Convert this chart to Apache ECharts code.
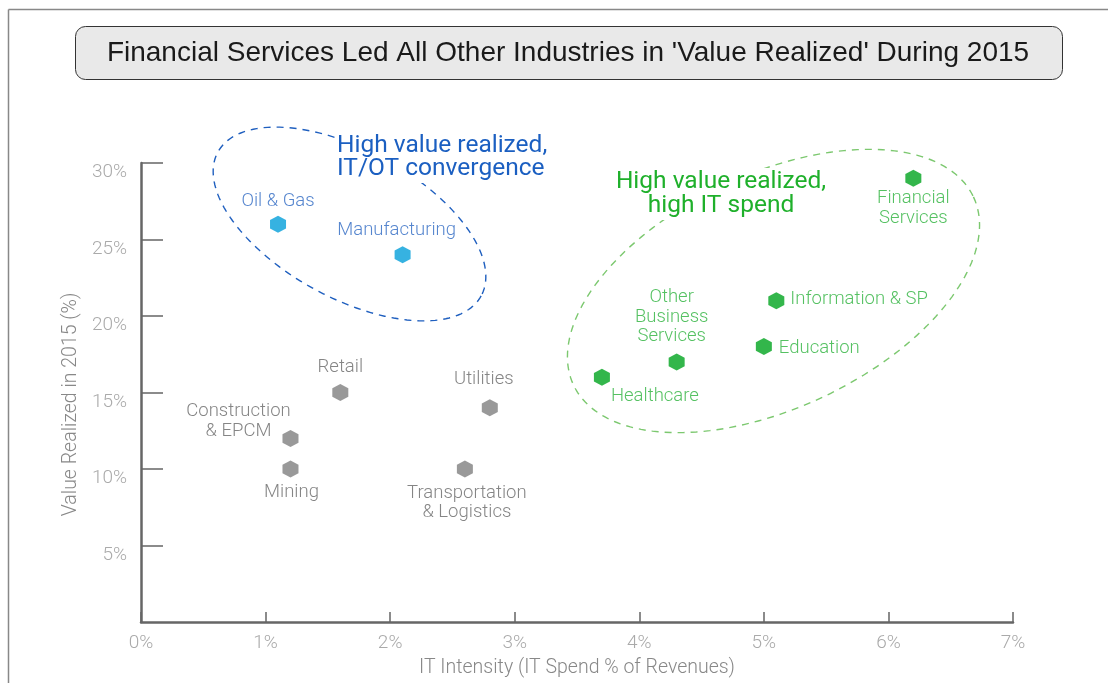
<!DOCTYPE html>
<html>
<head>
<meta charset="utf-8">
<script src="https://cdn.jsdelivr.net/npm/echarts@6/dist/echarts.min.js"></script>
<style>html,body{margin:0;padding:0;background:#fff;}#c{width:1108px;height:683px;}</style>
</head>
<body>
<div id="c"></div>
<script>
const titleText = "Financial Services Led All Other Industries in 'Value Realized' During 2015";
const xAxisName = 'IT Intensity (IT Spend % of Revenues)';
const yAxisName = 'Value Realized in 2015 (%)';
const industries = ['Oil & Gas','Manufacturing','Retail','Construction\n& EPCM','Mining','Utilities','Transportation\n& Logistics','Healthcare','Other\nBusiness\nServices','Education','Information & SP','Financial\nServices'];
const itIntensity = [1.1, 2.1, 1.6, 1.2, 1.2, 2.8, 2.6, 3.7, 4.3, 5.0, 5.1, 6.2];
const valueRealized = [26, 24, 15, 12, 10, 14, 10, 16, 17, 18, 21, 29];
const groupOf = ['blue','blue','gray','gray','gray','gray','gray','green','green','green','green','green'];
const blueNote = 'High value realized,\nIT/OT convergence';
const greenNote = 'High value realized,\nhigh IT spend';

// label placement (style, not data)
const labelLayout = [
  {off:[0,-23], align:'center'},
  {off:[-6,-24], align:'center'},
  {off:[0,-25], align:'center'},
  {off:[-52,-17], align:'center'},
  {off:[1,23], align:'center'},
  {off:[-6,-28], align:'center'},
  {off:[2,34], align:'center'},
  {off:[53,19], align:'center'},
  {off:[-5,-45], align:'center'},
  {off:[15,2], align:'left'},
  {off:[14,-1], align:'left'},
  {off:[0,30], align:'center'}
];
const palette = {
  blue: {marker:'#049fd9', label:'#2a66c2'},
  gray: {marker:'#808080', label:'#666666'},
  green:{marker:'#00a41e', label:'#2ab13b'}
};
const hex = 'path://M0,-1 L0.866,-0.5 L0.866,0.5 L0,1 L-0.866,0.5 L-0.866,-0.5 Z';
const FONT = 'Roboto, "Noto Sans", sans-serif';

function seriesFor(g){
  const data = [];
  industries.forEach((n,i)=>{
    if(groupOf[i]!==g) return;
    const L = labelLayout[i];
    data.push({name:n, value:[itIntensity[i], valueRealized[i]],
      label:{offset:L.off, align:L.align}});
  });
  return {
    type:'scatter', name:g, data, symbol:hex, symbolSize:[16,17],
    itemStyle:{color:palette[g].marker},
    label:{show:true, position:'inside', formatter:p=>p.name, color:palette[g].label,
      fontFamily:FONT, fontWeight:300, fontSize:18.5, lineHeight:19.5, verticalAlign:'middle'},
    emphasis:{disabled:true}, z:3
  };
}

function ellipsePts(cx,cy,a,b,theta){
  const pts=[];
  for(let k=0;k<180;k++){
    const t=k/180*Math.PI*2;
    const x=a*Math.cos(t), y=b*Math.sin(t);
    pts.push([cx + x*Math.cos(theta) - y*Math.sin(theta), cy + x*Math.sin(theta) + y*Math.cos(theta)]);
  }
  return pts;
}

const chart = echarts.init(document.getElementById('c'));
chart.setOption({
  backgroundColor:'#fff',
  animation:false,
  grid:{left:141, right:95, top:163, bottom:55},
  xAxis:{type:'value', min:0, max:7, interval:1,
    name:xAxisName, nameLocation:'middle', nameGap:36,
    nameTextStyle:{color:'#888', fontSize:19.5, fontFamily:FONT, fontWeight:300},
    axisLine:{show:true, lineStyle:{color:'#666', width:2.5}},
    axisTick:{show:true, inside:true, length:10, lineStyle:{color:'#666', width:1.5}},
    axisLabel:{formatter:'{value}%', color:'#aaa', fontSize:19, fontFamily:FONT, fontWeight:300, margin:12},
    splitLine:{show:false}},
  yAxis:{type:'value', min:0, max:30, interval:5,
    name:yAxisName, nameLocation:'middle', nameGap:52,
    nameTextStyle:{color:'#888', fontSize:19.5, fontFamily:FONT, fontWeight:300, padding:[0,24,0,0]},
    axisLine:{show:true, lineStyle:{color:'#666', width:2.5}},
    axisTick:{show:true, inside:true, length:22, lineStyle:{color:'#666', width:1.5}},
    axisLabel:{formatter:'{value}%', color:'#aaa', fontSize:19, fontFamily:FONT, fontWeight:300, margin:14,
      verticalAlign:'top', padding:[0,0,0,0], showMinLabel:false},
    splitLine:{show:false}},
  series:[seriesFor('blue'), seriesFor('gray'), seriesFor('green')],
  graphic:[
    {type:'line', shape:{x1:8.5,y1:9.5,x2:1108,y2:9.5}, style:{stroke:'#888', lineWidth:1.5}, z:1},
    {type:'line', shape:{x1:8.5,y1:9.5,x2:8.5,y2:683}, style:{stroke:'#888', lineWidth:1.5}, z:1},
    {type:'rect', shape:{x:75.5,y:26.5,width:987,height:53,r:10}, style:{fill:'#e9e9e9', stroke:'#333', lineWidth:1}, z:1},
    {type:'text', x:568, y:53, style:{text:titleText, fill:'#1a1a1a', font:'28px "Liberation Sans", Arial, sans-serif', textAlign:'center', textVerticalAlign:'middle'}, z:2},
    {type:'polygon', shape:{points:ellipsePts(349.5,224,150,74,0.50)}, style:{fill:'none', stroke:'#1f5fbf', lineWidth:1.4, lineDash:[7,6]}, z:1},
    {type:'polygon', shape:{points:ellipsePts(773.5,291,221,117,-0.44)}, style:{fill:'none', stroke:'#7cc86f', lineWidth:1.4, lineDash:[7,6]}, z:1},
    {type:'text', x:337, y:132, style:{text:blueNote, fill:'#1b5fc1', fontSize:24.5, fontFamily:FONT, lineHeight:23.5, textAlign:'left', backgroundColor:'#fff', padding:[2,4,2,0]}, z:5},
    {type:'text', x:721, y:168, style:{text:greenNote, fill:'#1fb02b', fontSize:24.5, fontFamily:FONT, lineHeight:24, textAlign:'center', backgroundColor:'#fff', padding:[2,4,2,4]}, z:5}
  ]
});
</script>
</body>
</html>
